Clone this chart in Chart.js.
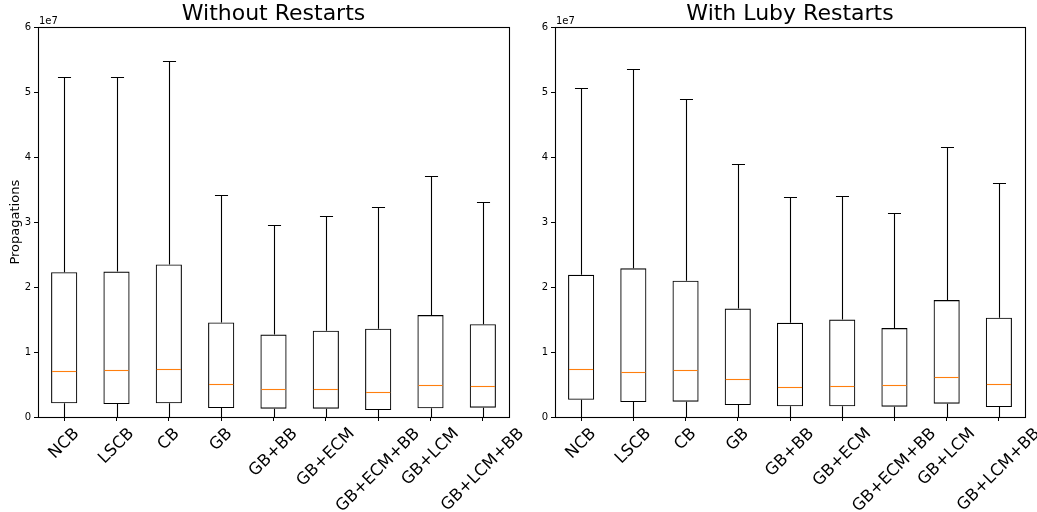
<!DOCTYPE html>
<html>
<head>
<meta charset="utf-8">
<script src="https://cdn.jsdelivr.net/npm/chart.js@4.4.1/dist/chart.umd.min.js"></script>
<style>
    body { margin: 0; background: #fff; }
    #wrap { position: relative; width: 1037px; height: 512px; overflow: hidden; }
    canvas { position: absolute; top: 0; }
</style>
</head>
<body>
<div id="wrap">
    <canvas id="noRestarts" width="540" height="512" style="left:0"></canvas>
    <canvas id="lubyRestarts" width="519" height="512" style="left:518px"></canvas>
</div>
<script>
    "use strict";

    const categories = ["NCB", "LSCB", "CB", "GB", "GB+BB", "GB+ECM", "GB+ECM+BB", "GB+LCM", "GB+LCM+BB"];
    const yTicks = [0, 1e7, 2e7, 3e7, 4e7, 5e7, 6e7];

    // without restarts
    const plainMin = [0, 0, 0, 0, 0, 0, 0, 0, 0];
    const plainQ1 = [0.21e7, 0.20e7, 0.21e7, 0.138e7, 0.128e7, 0.128e7, 0.108e7, 0.133e7, 0.143e7];
    const plainMedian = [0.707e7, 0.722e7, 0.733e7, 0.502e7, 0.425e7, 0.43e7, 0.384e7, 0.487e7, 0.476e7];
    const plainQ3 = [2.23e7, 2.24e7, 2.35e7, 1.455e7, 1.27e7, 1.33e7, 1.36e7, 1.57e7, 1.43e7];
    const plainMax = [5.24e7, 5.24e7, 5.49e7, 3.42e7, 2.96e7, 3.09e7, 3.23e7, 3.71e7, 3.31e7];

    // with luby restarts
    const lubyMin = [0, 0, 0, 0, 0, 0, 0, 0, 0];
    const lubyQ1 = [0.266e7, 0.23e7, 0.236e7, 0.184e7, 0.164e7, 0.164e7, 0.159e7, 0.205e7, 0.154e7];
    const lubyMedian = [0.738e7, 0.697e7, 0.717e7, 0.579e7, 0.466e7, 0.476e7, 0.487e7, 0.615e7, 0.507e7];
    const lubyQ3 = [2.19e7, 2.29e7, 2.10e7, 1.67e7, 1.45e7, 1.50e7, 1.37e7, 1.80e7, 1.53e7];
    const lubyMax = [5.07e7, 5.36e7, 4.90e7, 3.90e7, 3.39e7, 3.41e7, 3.145e7, 4.155e7, 3.60e7];

    const FONT = "'DejaVu Sans', sans-serif";
    const LINE = 1.1;

    // whiskers, caps, medians, frame, offset text and rotated labels
    const boxPlugin = {
        id: "boxExtras",
        afterDatasetsDraw(chart, args, opts) {
            const ctx = chart.ctx;
            const y = chart.scales.y;
            const meta = chart.getDatasetMeta(0);
            ctx.save();
            ctx.lineWidth = LINE;
            meta.data.forEach(function (bar, i) {
                const x = Math.round(bar.x) + 0.5;
                const half = bar.width / 2;
                const yq1 = y.getPixelForValue(opts.q1[i]);
                const yq3 = y.getPixelForValue(opts.q3[i]);
                const ylo = Math.round(y.getPixelForValue(opts.lo[i])) + 0.5;
                const yhi = Math.round(y.getPixelForValue(opts.hi[i])) + 0.5;
                const ymed = Math.round(y.getPixelForValue(opts.med[i])) + 0.5;
                ctx.strokeStyle = "#000";
                ctx.beginPath();
                ctx.moveTo(x, yq3); ctx.lineTo(x, yhi);
                ctx.moveTo(x, yq1); ctx.lineTo(x, ylo);
                ctx.moveTo(x - half / 2, yhi); ctx.lineTo(x + half / 2, yhi);
                ctx.moveTo(x - half / 2, ylo); ctx.lineTo(x + half / 2, ylo);
                ctx.stroke();
                ctx.strokeStyle = "#ff7f0e";
                ctx.beginPath();
                ctx.moveTo(bar.x - half + 1, ymed); ctx.lineTo(bar.x + half - 1, ymed);
                ctx.stroke();
            });
            ctx.restore();
        },
        afterDraw(chart) {
            const ctx = chart.ctx;
            const area = chart.chartArea;
            const xs = chart.scales.x;
            ctx.save();
            ctx.strokeStyle = "#000";
            ctx.lineWidth = LINE;
            ctx.strokeRect(Math.round(area.left) + 0.5, Math.round(area.top) + 0.5,
                Math.round(area.right - area.left), Math.round(area.bottom - area.top));

            ctx.fillStyle = "#000";
            ctx.font = "10px " + FONT;
            ctx.textAlign = "left";
            ctx.textBaseline = "alphabetic";
            ctx.fillText("1e7", area.left + 1, area.top - 3);

            // labels rotated 45 degrees, centred under the tick like matplotlib
            const size = 16.5;
            ctx.font = size + "px " + FONT;
            ctx.textAlign = "center";
            ctx.textBaseline = "middle";
            const h = size * 1.16;
            const top = area.bottom + 4 + 3.5;
            categories.forEach(function (label, i) {
                const w = ctx.measureText(label).width;
                const side = (w + h) * Math.SQRT1_2;
                const cx = xs.getPixelForTick(i);
                const cy = top + side / 2;
                ctx.save();
                ctx.translate(cx, cy);
                ctx.rotate(-Math.PI / 4);
                ctx.fillText(label, 0, 0);
                ctx.restore();
            });
            ctx.restore();
        },
    };

    function makeChart(id, title, lo, q1, med, q3, hi, yTitle, axisWidth, rightPad) {
        return new Chart(document.getElementById(id), {
            type: "bar",
            data: {
                labels: categories,
                datasets: [
                    {
                        data: q1.map(function (v, i) { return [v, q3[i]]; }),
                        backgroundColor: "rgba(255,255,255,0)",
                        borderColor: "#000",
                        borderWidth: LINE,
                        borderSkipped: false,
                        barPercentage: 0.5,
                        categoryPercentage: 1.0,
                    },
                ],
            },
            options: {
                responsive: false,
                animation: false,
                devicePixelRatio: 1,
                layout: { padding: { left: 0, right: rightPad, top: 0, bottom: 0 } },
                plugins: {
                    legend: { display: false },
                    tooltip: { enabled: false },
                    title: {
                        display: true,
                        fullSize: false,
                        text: title,
                        color: "#000",
                        font: { family: FONT, size: 22, weight: "normal", lineHeight: 1.2 },
                        padding: { top: 1, bottom: 0 },
                    },
                    boxExtras: { lo: lo, q1: q1, med: med, q3: q3, hi: hi },
                },
                scales: {
                    x: {
                        grid: {
                            offset: false,
                            drawOnChartArea: false,
                            tickLength: 4,
                            tickColor: "#000",
                            tickWidth: 1,
                        },
                        border: { display: false },
                        ticks: { display: false },
                        afterFit: function (scale) { scale.height = 95; },
                    },
                    y: {
                        min: 0,
                        max: 6e7,
                        afterBuildTicks: function (scale) {
                            scale.ticks = yTicks.map(function (v) { return { value: v }; });
                        },
                        grid: {
                            drawOnChartArea: false,
                            tickLength: 4,
                            tickColor: "#000",
                            tickWidth: 1,
                        },
                        border: { display: false },
                        ticks: {
                            color: "#000",
                            padding: 3,
                            font: { family: FONT, size: 10 },
                            callback: function (value) { return String(value / 1e7); },
                        },
                        title: {
                            display: !!yTitle,
                            text: yTitle,
                            color: "#000",
                            font: { family: FONT, size: 13 },
                            padding: { top: 8, bottom: 0 },
                        },
                        afterFit: function (scale) { scale.width = axisWidth; },
                    },
                },
            },
            plugins: [boxPlugin],
        });
    }

    makeChart("noRestarts", "Without Restarts", plainMin, plainQ1, plainMedian, plainQ3, plainMax, "Propagations", 38, 31);
    makeChart("lubyRestarts", "With Luby Restarts", lubyMin, lubyQ1, lubyMedian, lubyQ3, lubyMax, "", 37, 12);
</script>
</body>
</html>
